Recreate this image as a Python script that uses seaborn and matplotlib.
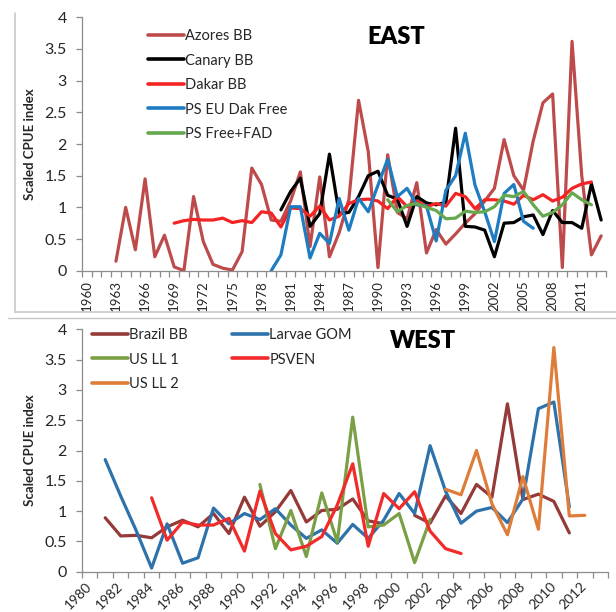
import matplotlib
matplotlib.use("Agg")
import matplotlib.pyplot as plt
import seaborn as sns
import numpy as np
import pandas as pd
from matplotlib.lines import Line2D
from matplotlib.ticker import FixedLocator, FixedFormatter

# ---------------- data ----------------
NA = np.nan

# EAST panel
azores_start = 1963
azores_bb = [0.15, 1.00, 0.33, 1.45, 0.22, 0.56, 0.06, 0.00, 1.17, 0.46,
             0.10, 0.04, 0.01, 0.30, 1.62, 1.36, 0.80, 0.78, 1.10, 1.56,
             0.38, 1.48, 0.22, 0.60, 1.12, 2.69, 1.88, 0.05, 1.83, 0.92,
             0.82, 1.39, 0.28, 0.65, 0.42, 0.58, 0.75, 0.90, 1.10, 1.30,
             2.07, 1.50, 1.27, 2.05, 2.65, 2.79, 0.05, 3.62, 1.50, 0.25,
             0.55]
canary_start = 1980
canary_bb = [0.96, 1.25, 1.46, 0.70, 0.90, 1.84, 0.90, 0.92, 1.17, 1.50,
             1.57, 1.19, 1.13, 0.70, 1.17, 1.07, 1.04, 1.08, 2.25, 0.70,
             0.69, 0.64, 0.22, 0.75, 0.76, 0.85, 0.88, 0.57, 0.95, 0.76,
             0.76, 0.67, 1.37, 0.80]
dakar_start = 1969
dakar_bb = [0.75, 0.79, 0.81, 0.80, 0.80, 0.83, 0.76, 0.79, 0.76, 0.93,
            0.91, 0.69, 0.99, 0.98, 0.86, 1.02, 0.80, 0.86, 1.06, 1.12,
            1.13, 1.10, 0.98, 1.17, 1.01, 1.10, 1.01, 1.06, 1.02, 1.22,
            1.17, 0.98, 1.12, 1.12, 1.10, 1.05, 1.19, 1.12, 1.20, 1.10,
            1.16, 1.30, 1.37, 1.40]
ps_eu_start = 1979
ps_eu_dak_free = [0.00, 0.25, 1.01, 1.01, 0.20, 0.59, 0.43, 1.14, 0.64, 1.14,
                  0.93, 1.35, 1.76, 1.17, 1.30, 1.04, 1.02, 0.47, 1.27, 1.50,
                  2.17, 1.35, 0.93, 0.46, 1.22, 1.36, 0.78, 0.67]
ps_fad_start = 1991
ps_free_fad = [1.12, 0.93, 1.03, 1.06, 1.00, 0.95, 0.82, 0.83, 0.94, 0.92,
               0.93, 1.01, 1.19, 1.17, 1.25, 1.04, 0.86, 0.92, 1.04, 1.23,
               1.12, 1.04]

# WEST panel
brazil_start = 1981
brazil_bb = [0.89, 0.59, 0.60, 0.56, 0.74, 0.85, 0.74, 0.96, 0.63, 1.23,
             0.75, 0.99, 1.34, 0.82, 1.01, 1.03, 1.20, 0.84, 0.79, NA,
             0.93, 0.80, 1.25, 0.96, 1.44, 1.23, 2.77, 1.19, 1.28, 1.16,
             0.64]
larvae_start = 1981
larvae_gom = [1.85, 1.25, 0.68, 0.06, 0.79, 0.14, 0.23, 1.05, 0.79, 0.96,
              0.86, 1.04, 0.77, 0.55, 0.69, 0.47, 0.78, 0.55, 0.85, 1.29,
              0.96, 2.08, 1.33, 0.80, 1.00, 1.06, 0.81, 1.20, 2.69, 2.80,
              1.07]
usll1_start = 1991
us_ll_1 = [1.44, 0.38, 1.01, 0.25, 1.30, 0.49, 2.55, 0.74, 0.77, 0.96,
           0.15, 0.86]
psven_start = 1984
psven = [1.22, 0.52, 0.82, 0.77, 0.77, 0.88, 0.34, 1.33, 0.63, 0.36,
         0.42, 0.58, 1.10, 1.78, 0.42, 1.29, 1.04, 1.32, 0.67, 0.38,
         0.30]
usll2_start = 2003
us_ll_2 = [1.36, 1.27, 2.00, 1.12, 0.61, 1.57, 0.70, 3.70, 0.92, 0.93]

east_labels = list(range(1960, 2012, 3))
west_labels = list(range(1980, 2013, 2))
y_ticks = [0, 0.5, 1, 1.5, 2, 2.5, 3, 3.5, 4]
y_tick_labels = ["0", "0.5", "1", "1.5", "2", "2.5", "3", "3.5", "4"]

# ---------------- helpers ----------------
def frame(entries):
    rows = []
    for name, start, vals in entries:
        seg = 0
        for i, v in enumerate(vals):
            if v is None or np.isnan(v):
                seg += 1
                continue
            rows.append((start + i, v, name, f"{name}#{seg}"))
    return pd.DataFrame(rows, columns=["year", "value", "series", "unit"])

east_entries = [("Azores BB", azores_start, azores_bb),
                ("Canary BB", canary_start, canary_bb),
                ("Dakar BB", dakar_start, dakar_bb),
                ("PS EU Dak Free", ps_eu_start, ps_eu_dak_free),
                ("PS Free+FAD", ps_fad_start, ps_free_fad)]
east_colors = {"Azores BB": "#BE4B4B", "Canary BB": "#000000",
               "Dakar BB": "#F42424", "PS EU Dak Free": "#1E7CC2",
               "PS Free+FAD": "#66A84E"}

west_entries = [("Brazil BB", brazil_start, brazil_bb),
                ("Larvae GOM", larvae_start, larvae_gom),
                ("US LL 1", usll1_start, us_ll_1),
                ("PSVEN", psven_start, psven),
                ("US LL 2", usll2_start, us_ll_2)]
west_colors = {"Brazil BB": "#943A39", "Larvae GOM": "#2E72AC",
               "US LL 1": "#7A9F45", "PSVEN": "#F22A2A",
               "US LL 2": "#DE7D3A"}

sns.set_theme(style="white")
plt.rcParams["font.family"] = ["Lato", "DejaVu Sans"]

W, H = 616, 612
fig = plt.figure(figsize=(W / 100, H / 100), dpi=100)

def px_axes(x0, y0, x1, y1):
    return fig.add_axes([x0 / W, 1 - y1 / H, (x1 - x0) / W, (y1 - y0) / H])

axis_col = "#8C8C8C"
text_col = "#262626"

def style_axes(ax):
    for s in ["top", "right"]:
        ax.spines[s].set_visible(False)
    for s in ["left", "bottom"]:
        ax.spines[s].set_color(axis_col)
        ax.spines[s].set_linewidth(0.9)
    ax.set_ylim(0, 4)
    ax.yaxis.set_major_locator(FixedLocator(y_ticks))
    ax.yaxis.set_major_formatter(FixedFormatter(y_tick_labels))
    ax.tick_params(axis="y", which="major", direction="out", length=4,
                   width=0.9, color=axis_col, labelsize=11.5, pad=7,
                   labelcolor=text_col, left=True)
    ax.set_xlabel("")
    ax.set_ylabel("Scaled CPUE index", fontsize=9.5, fontweight="bold",
                  color=text_col)
    ax.yaxis.set_label_coords(-0.087, 0.5)

# ---------------- EAST ----------------
ax1 = px_axes(82, 17.3, 606, 270.7)
df_e = frame(east_entries)
sns.lineplot(data=df_e, x="year", y="value", hue="series", units="unit",
             estimator=None, palette=east_colors,
             hue_order=[e[0] for e in east_entries], linewidth=2.3,
             legend=False, ax=ax1)
ax1.set_xlim(1959.5, 2013.5)
style_axes(ax1)
ax1.xaxis.set_major_locator(FixedLocator(east_labels))
ax1.xaxis.set_major_formatter(FixedFormatter([str(y) for y in east_labels]))
ax1.xaxis.set_minor_locator(FixedLocator(np.arange(1959.5, 2014, 1.0)))
ax1.tick_params(axis="x", which="major", length=0, pad=7, labelsize=9.5,
                labelrotation=90, labelcolor=text_col, bottom=True)
ax1.tick_params(axis="x", which="minor", length=4, width=0.9,
                color=axis_col, direction="out", bottom=True)

h_e = [Line2D([], [], color=east_colors[n], lw=2.6) for n, _, _ in east_entries]
leg1 = ax1.legend(h_e, [e[0] for e in east_entries], loc="upper left",
                  bbox_to_anchor=(148 / W, 1 - 29 / H),
                  bbox_transform=fig.transFigure, frameon=False,
                  fontsize=10.5, handlelength=2.45, handletextpad=0.12,
                  labelspacing=0.72, borderpad=0, borderaxespad=0)
for t in leg1.get_texts():
    t.set_color(text_col)
fig.text(396 / W, 1 - 37 / H, "EAST", fontsize=17, fontweight="heavy",
         ha="center", va="center", color="#000000")

# ---------------- WEST ----------------
ax2 = px_axes(82, 329.3, 608, 571.7)
df_w = frame(west_entries)
sns.lineplot(data=df_w, x="year", y="value", hue="series", units="unit",
             estimator=None, palette=west_colors,
             hue_order=[e[0] for e in west_entries], linewidth=2.3,
             legend=False, ax=ax2)
ax2.set_xlim(1979.5, 2013.5)
style_axes(ax2)
ax2.xaxis.set_major_locator(FixedLocator(west_labels))
ax2.xaxis.set_major_formatter(FixedFormatter([str(y) for y in west_labels]))
ax2.xaxis.set_minor_locator(FixedLocator(np.arange(1979.5, 2014, 1.0)))
ax2.tick_params(axis="x", which="major", length=0, pad=9, labelsize=10,
                labelcolor=text_col, bottom=True)
ax2.tick_params(axis="x", which="minor", length=4, width=0.9,
                color=axis_col, direction="out", bottom=True)
for lab in ax2.get_xticklabels():
    lab.set_rotation(45)
    lab.set_ha("right")
    lab.set_va("center")
    lab.set_rotation_mode("anchor")

west_order = ["Brazil BB", "US LL 1", "US LL 2", "Larvae GOM", "PSVEN"]
h_w = [Line2D([], [], color=west_colors[n], lw=2.6) for n in west_order]
leg2 = ax2.legend(h_w, west_order, loc="upper left", ncol=2,
                  bbox_to_anchor=(92 / W, 1 - 328 / H),
                  bbox_transform=fig.transFigure, frameon=False,
                  fontsize=10.5, handlelength=2.45, handletextpad=0.12,
                  labelspacing=0.72, columnspacing=3.0, borderpad=0,
                  borderaxespad=0)
for t in leg2.get_texts():
    t.set_color(text_col)
fig.text(423 / W, 1 - 341 / H, "WEST", fontsize=17, fontweight="heavy",
         ha="center", va="center", color="#000000")

# ---------------- panel frames ----------------
frame_col = "#C8C8C8"
fig.add_artist(Line2D([15 / W, 15 / W], [1 - 13 / H, 1 - 312 / H],
                      transform=fig.transFigure, color=frame_col, lw=1.2))
fig.add_artist(Line2D([15 / W, 1.0], [1 - 312 / H, 1 - 312 / H],
                      transform=fig.transFigure, color=frame_col, lw=1.2))
fig.add_artist(Line2D([8 / W, 1.0], [1 - 318 / H, 1 - 318 / H],
                      transform=fig.transFigure, color=frame_col, lw=1.0))

fig.savefig("out.png", dpi=100)
